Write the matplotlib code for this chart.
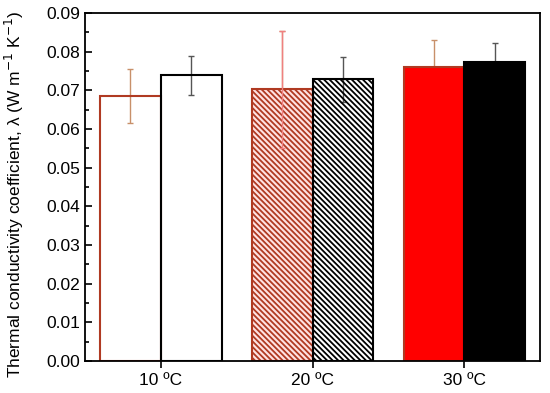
import numpy as np
import matplotlib
matplotlib.use('Agg')
import matplotlib.pyplot as plt

plt.rcParams['font.family'] = ['Liberation Sans', 'DejaVu Sans']
plt.rcParams['hatch.linewidth'] = 1.3

temps = ['10 ºC', '20 ºC', '30 ºC']
series1 = [0.0685, 0.0703, 0.0761]
err1 = [0.0070, 0.0151, 0.0070]
series2 = [0.0739, 0.0728, 0.0774]
err2 = [0.0051, 0.0059, 0.0049]

red_edge = '#b03a22'
fills1 = ['none', '#ffe2e2', '#ff0000']
fills2 = ['none', 'none', '#000000']
hatches = ['', '\\\\\\\\\\\\', '']

x = np.arange(1, len(temps) + 1)
w = 0.4

fig = plt.figure(figsize=(5.5, 3.93), dpi=100)
ax = fig.add_axes([0.1545, 0.0814, 0.8275, 0.8856])

ax.errorbar(x - w/2, series1, yerr=err1, fmt='none', ecolor='#c8906a', elinewidth=1, capsize=2.5, zorder=1)
ax.errorbar(x + w/2, series2, yerr=err2, fmt='none', ecolor='#555555', elinewidth=1, capsize=2.5, zorder=1)

b1 = ax.bar(x - w/2, series1, w, facecolor='none', edgecolor=red_edge, linewidth=1.5, zorder=2)
b2 = ax.bar(x + w/2, series2, w, facecolor='none', edgecolor='black', linewidth=1.5, zorder=2)
for i in range(len(temps)):
    b1[i].set_facecolor(fills1[i])
    b2[i].set_facecolor(fills2[i])
    b1[i].set_hatch(hatches[i])
    b2[i].set_hatch(hatches[i])

# error bar of hatched red bar shows through in the reference
ax.errorbar(x[1] - w/2, series1[1], yerr=err1[1], fmt='none', ecolor='#f08080', elinewidth=1, capsize=2.5, zorder=3)

ax.set_xlim(0.5, 3.5)
ax.set_ylim(0, 0.09)
ax.set_xticks(x)
ax.set_xticklabels(temps)
ax.set_yticks(np.arange(0, 0.0901, 0.01))
ax.set_yticks(np.arange(0.005, 0.09, 0.01), minor=True)
ax.yaxis.set_major_formatter(matplotlib.ticker.FormatStrFormatter('%.2f'))
ax.tick_params(axis='y', which='major', direction='in', length=5, width=1.2, labelsize=12.5)
ax.tick_params(axis='y', which='minor', direction='in', length=3, width=1.2)
ax.tick_params(axis='x', direction='out', length=5, width=1.2, labelsize=12.5)
for s in ax.spines.values():
    s.set_linewidth(1.3)

ax.set_ylabel('Thermal conductivity coefficient, λ (W m$^{-1}$ K$^{-1}$)', fontsize=12.5)
ax.yaxis.set_label_coords(-0.13, 0.48)

fig.savefig('out.png', dpi=100)
